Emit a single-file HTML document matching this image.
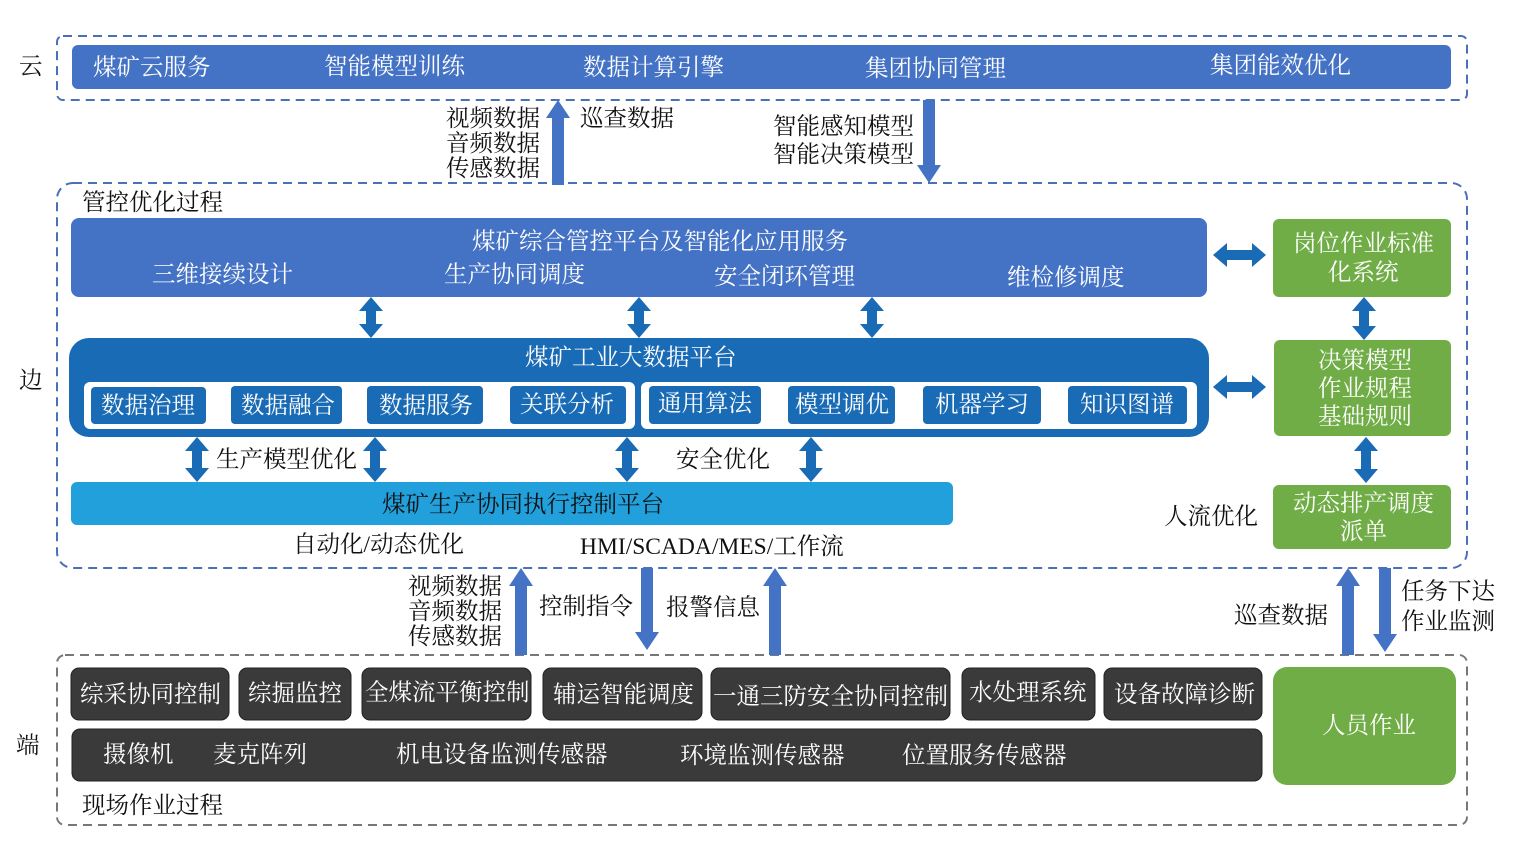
<!DOCTYPE html>
<html><head><meta charset="utf-8"><style>
html,body{margin:0;padding:0;background:#fff;}
svg{display:block;}
text{font-family:"Liberation Serif","Noto Serif CJK SC",serif;font-size:23.5px;}
.w{fill:#fff;} .k{fill:#111;}
</style></head><body>
<svg width="1516" height="858" viewBox="0 0 1516 858" xmlns="http://www.w3.org/2000/svg">
<rect x="57" y="36" width="1410" height="64" rx="6" fill="none" stroke="#4a70b8" stroke-width="2" stroke-dasharray="9,6"/>
<rect x="57" y="183" width="1410" height="385" rx="16" fill="none" stroke="#4a70b8" stroke-width="2" stroke-dasharray="9,6"/>
<rect x="57" y="655" width="1410" height="170" rx="8" fill="none" stroke="#777" stroke-width="2" stroke-dasharray="9,6"/>
<text x="19" y="74" class="k">云</text>
<text x="19" y="388" class="k">边</text>
<text x="16" y="753" class="k">端</text>

<rect x="72" y="45" width="1379" height="44" rx="6" fill="#4472c4"/>
<text x="93" y="75" class="w">煤矿云服务</text>
<text x="324" y="74" class="w">智能模型训练</text>
<text x="583" y="75" class="w">数据计算引擎</text>
<text x="865" y="76" class="w">集团协同管理</text>
<text x="1210" y="73" class="w">集团能效优化</text>

<g fill="#4472c4">
<polygon points="558,100 570,118 564,118 564,185 552,185 552,118 546,118"/>
<polygon points="929,183 941,165 935,165 935,100 923,100 923,165 917,165"/>
<polygon points="521,568 533,586 527,586 527,655 515,655 515,586 509,586"/>
<polygon points="647,650 659,632 653,632 653,568 641,568 641,632 635,632"/>
<polygon points="775,568 787,586 781,586 781,655 769,655 769,586 763,586"/>
<polygon points="1348,568 1360,586 1354,586 1354,655 1342,655 1342,586 1336,586"/>
<polygon points="1385,652 1397,634 1391,634 1391,568 1379,568 1379,634 1373,634"/>
</g>
<g fill="#1a6bb5">
<polygon points="371,297 383,311 376,311 376,324 383,324 371,338 359,324 366,324 366,311 359,311"/>
<polygon points="639,297 651,311 644,311 644,324 651,324 639,338 627,324 634,324 634,311 627,311"/>
<polygon points="872,297 884,311 877,311 877,324 884,324 872,338 860,324 867,324 867,311 860,311"/>
<polygon points="1364,297 1376,311 1369,311 1369,326 1376,326 1364,340 1352,326 1359,326 1359,311 1352,311"/>
<polygon points="1366,437 1378,451 1371,451 1371,469 1378,469 1366,483 1354,469 1361,469 1361,451 1354,451"/>
<polygon points="197,437 209,451 202,451 202,468 209,468 197,482 185,468 192,468 192,451 185,451"/>
<polygon points="375,437 387,451 380,451 380,468 387,468 375,482 363,468 370,468 370,451 363,451"/>
<polygon points="627,437 639,451 632,451 632,468 639,468 627,482 615,468 622,468 622,451 615,451"/>
<polygon points="811,437 823,451 816,451 816,468 823,468 811,482 799,468 806,468 806,451 799,451"/>
<polygon points="1213,255 1227,243 1227,250 1252,250 1252,243 1266,255 1252,267 1252,260 1227,260 1227,267"/>
<polygon points="1213,387 1227,375 1227,382 1252,382 1252,375 1266,387 1252,399 1252,392 1227,392 1227,399"/>
</g>

<text x="446" y="126" class="k">视频数据</text>
<text x="446" y="151" class="k">音频数据</text>
<text x="446" y="176" class="k">传感数据</text>
<text x="580" y="126" class="k">巡查数据</text>
<text x="773" y="134" class="k">智能感知模型</text>
<text x="773" y="162" class="k">智能决策模型</text>

<text x="82" y="210" class="k">管控优化过程</text>

<rect x="71" y="218" width="1136" height="79" rx="8" fill="#4472c4"/>
<text x="472" y="249" class="w">煤矿综合管控平台及智能化应用服务</text>
<text x="152" y="282" class="w">三维接续设计</text>
<text x="444" y="282" class="w">生产协同调度</text>
<text x="714" y="284" class="w">安全闭环管理</text>
<text x="1007" y="285" class="w">维检修调度</text>

<rect x="69" y="338" width="1140" height="99" rx="20" fill="#1a6bb5"/>
<text x="525" y="365" class="w">煤矿工业大数据平台</text>
<rect x="84" y="382" width="551" height="47" rx="6" fill="#fff"/>
<rect x="641" y="382" width="556" height="47" rx="6" fill="#fff"/>
<g fill="#1a6bb5">
<rect x="91" y="387" width="115" height="37" rx="4"/>
<rect x="231" y="386" width="111" height="38" rx="4"/>
<rect x="367" y="386" width="116" height="38" rx="4"/>
<rect x="510" y="386" width="116" height="38" rx="4"/>
<rect x="649" y="386" width="112" height="38" rx="4"/>
<rect x="788" y="386" width="107" height="38" rx="4"/>
<rect x="923" y="386" width="118" height="38" rx="4"/>
<rect x="1068" y="386" width="119" height="38" rx="4"/>
</g>
<text x="101" y="413" class="w">数据治理</text>
<text x="241" y="413" class="w">数据融合</text>
<text x="379" y="413" class="w">数据服务</text>
<text x="520" y="412" class="w">关联分析</text>
<text x="658" y="411" class="w">通用算法</text>
<text x="795" y="412" class="w">模型调优</text>
<text x="935" y="412" class="w">机器学习</text>
<text x="1080" y="412" class="w">知识图谱</text>

<text x="216" y="467" class="k">生产模型优化</text>
<text x="676" y="467" class="k">安全优化</text>

<rect x="71" y="482" width="882" height="43" rx="6" fill="#21a0dc"/>
<text x="382" y="512" class="k">煤矿生产协同执行控制平台</text>
<text x="293" y="552" class="k">自动化/动态优化</text>
<text x="580" y="554" class="k">HMI/SCADA/MES/工作流</text>

<g fill="#70ad47">
<rect x="1273" y="219" width="178" height="78" rx="6"/>
<rect x="1274" y="340" width="177" height="96" rx="6"/>
<rect x="1273" y="485" width="178" height="64" rx="6"/>
<rect x="1273" y="667" width="183" height="118" rx="14"/>
</g>
<text x="1293" y="251" class="w">岗位作业标准</text>
<text x="1328" y="280" class="w">化系统</text>
<text x="1318" y="368" class="w">决策模型</text>
<text x="1318" y="396" class="w">作业规程</text>
<text x="1318" y="424" class="w">基础规则</text>
<text x="1293" y="511" class="w">动态排产调度</text>
<text x="1340" y="539" class="w">派单</text>
<text x="1164" y="524" class="k">人流优化</text>
<text x="1322" y="733" class="w">人员作业</text>

<text x="408" y="594" class="k">视频数据</text>
<text x="408" y="619" class="k">音频数据</text>
<text x="408" y="644" class="k">传感数据</text>
<text x="539" y="614" class="k">控制指令</text>
<text x="666" y="615" class="k">报警信息</text>
<text x="1234" y="623" class="k">巡查数据</text>
<text x="1401" y="599" class="k">任务下达</text>
<text x="1401" y="629" class="k">作业监测</text>

<g fill="#3a3a3a" stroke="#222" stroke-width="1">
<rect x="71" y="668" width="158" height="52" rx="8"/>
<rect x="239" y="668" width="112" height="52" rx="8"/>
<rect x="362" y="668" width="169" height="52" rx="8"/>
<rect x="543" y="668" width="159" height="52" rx="8"/>
<rect x="711" y="668" width="239" height="52" rx="8"/>
<rect x="962" y="668" width="133" height="52" rx="8"/>
<rect x="1104" y="668" width="158" height="52" rx="8"/>
<rect x="72" y="729" width="1190" height="52" rx="8"/>
</g>
<text x="80" y="702" class="w">综采协同控制</text>
<text x="248" y="701" class="w">综掘监控</text>
<text x="365" y="700" class="w">全煤流平衡控制</text>
<text x="553" y="702" class="w">辅运智能调度</text>
<text x="713" y="704" class="w">一通三防安全协同控制</text>
<text x="969" y="700" class="w">水处理系统</text>
<text x="1114" y="702" class="w">设备故障诊断</text>
<text x="103" y="762" class="w">摄像机</text>
<text x="213" y="762" class="w">麦克阵列</text>
<text x="396" y="762" class="w">机电设备监测传感器</text>
<text x="680" y="763" class="w">环境监测传感器</text>
<text x="902" y="763" class="w">位置服务传感器</text>
<text x="82" y="813" class="k">现场作业过程</text>
</svg>
</body></html>
